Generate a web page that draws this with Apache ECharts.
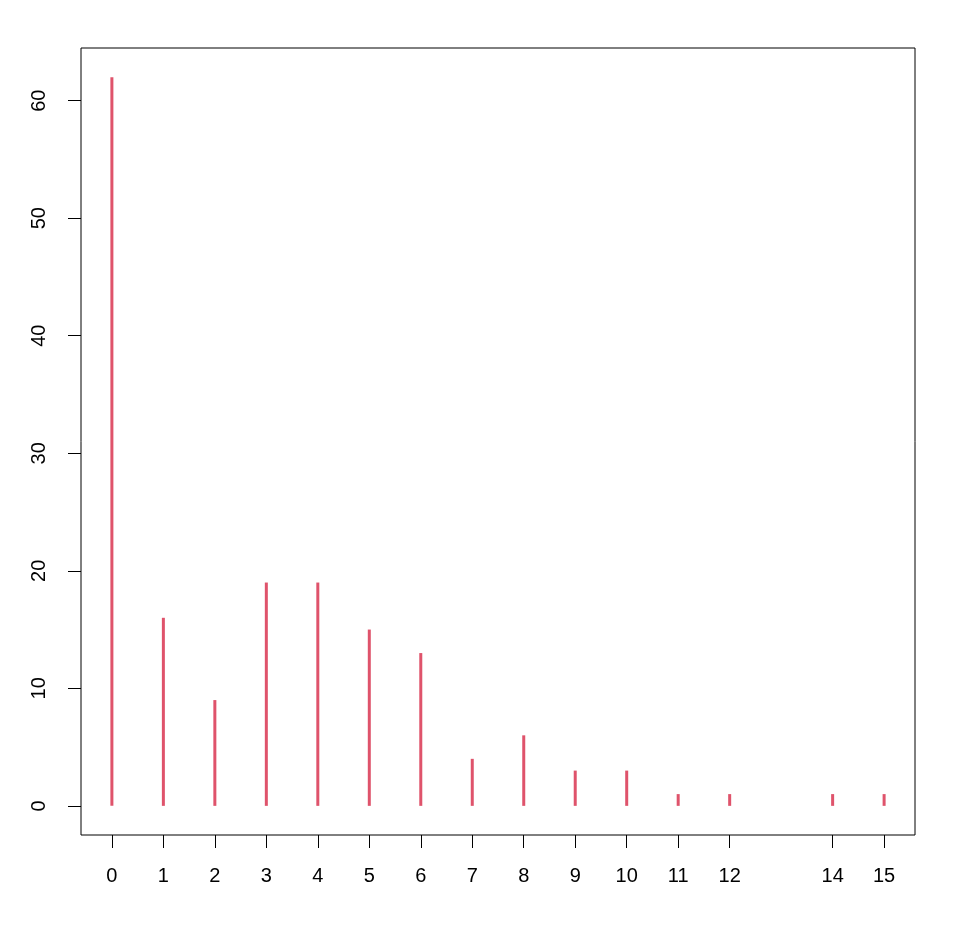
<!DOCTYPE html>
<html>
<head>
<meta charset="utf-8">
<script src="https://cdn.jsdelivr.net/npm/echarts@6/dist/echarts.min.js"></script>
<style>
html,body{margin:0;padding:0;background:#fff;}
#chart{width:962px;height:931px;}
</style>
</head>
<body>
<div id="chart"></div>
<script>
const xValues = [0, 1, 2, 3, 4, 5, 6, 7, 8, 9, 10, 11, 12, 14, 15];
const counts  = [62, 16, 9, 19, 19, 15, 13, 4, 6, 3, 3, 1, 1, 1, 1];
const xTicks = [0, 1, 2, 3, 4, 5, 6, 7, 8, 9, 10, 11, 12, 14, 15];
const yTicks = [0, 10, 20, 30, 40, 50, 60];

const font = 'Liberation Sans, Arial, Helvetica, sans-serif';
const chart = echarts.init(document.getElementById('chart'), null, {renderer: 'canvas'});
chart.setOption({
  animation: false,
  backgroundColor: '#ffffff',
  grid: {
    left: 81, top: 48, right: 47, bottom: 96,
    show: true, borderColor: '#000', borderWidth: 1, backgroundColor: 'transparent'
  },
  xAxis: {
    type: 'value',
    min: -0.6, max: 15.6,
    splitLine: {show: false},
    axisLine: {show: false, onZero: false},
    axisTick: {show: true, customValues: xTicks, length: 13, inside: false, lineStyle: {color: '#000', width: 1}},
    axisLabel: {show: true, customValues: xTicks, margin: 31, fontSize: 20, color: '#000', fontFamily: font}
  },
  yAxis: {
    type: 'value',
    min: -2.48, max: 64.48,
    splitLine: {show: false},
    axisLine: {show: false, onZero: false},
    axisTick: {show: true, customValues: yTicks, length: 13, lineStyle: {color: '#000', width: 1}},
    axisLabel: {show: true, customValues: yTicks, rotate: 90, margin: 32, fontSize: 20, color: '#000', fontFamily: font}
  },
  series: [{
    type: 'bar',
    barWidth: 3,
    itemStyle: {color: '#DF536B'},
    data: xValues.map((x, i) => [x, counts[i]])
  }]
});
</script>
</body>
</html>
